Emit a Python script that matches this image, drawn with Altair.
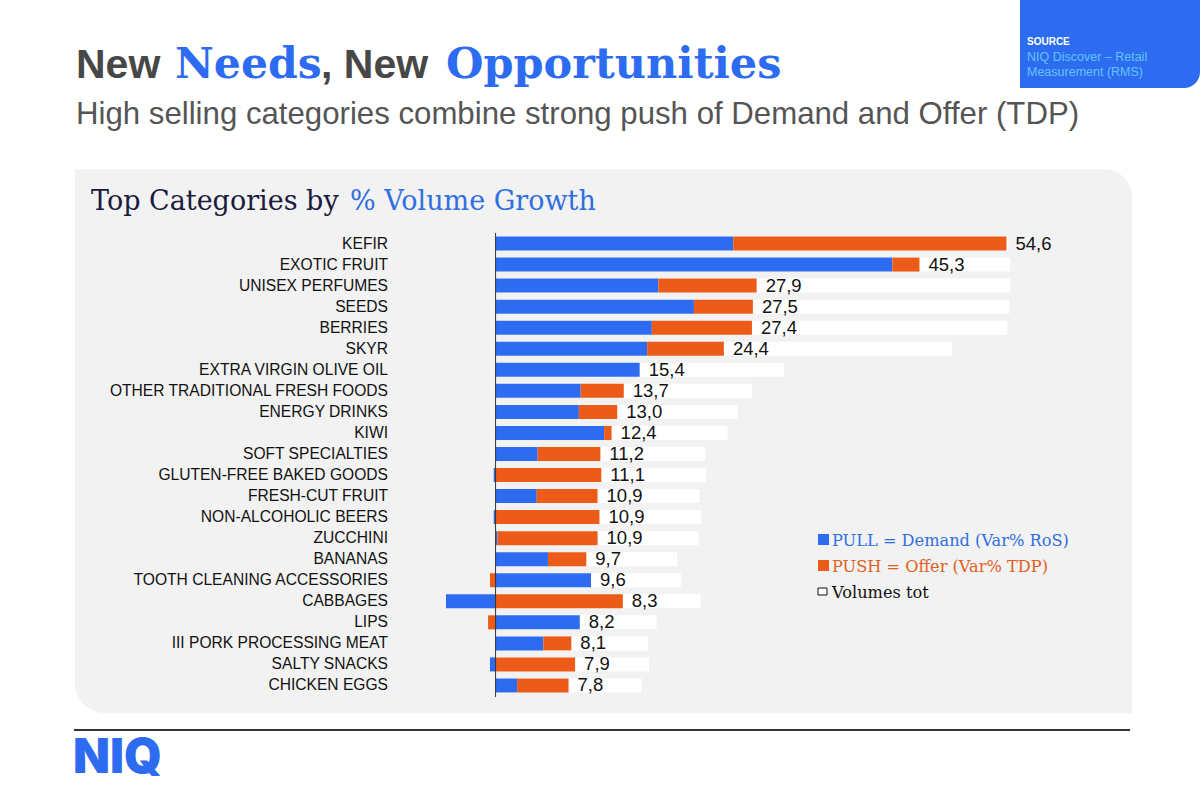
import altair as alt
import pandas as pd

# ---- data -------------------------------------------------------------
categories = [
    "KEFIR", "EXOTIC FRUIT", "UNISEX PERFUMES", "SEEDS", "BERRIES", "SKYR",
    "EXTRA VIRGIN OLIVE OIL", "OTHER TRADITIONAL FRESH FOODS", "ENERGY DRINKS",
    "KIWI", "SOFT SPECIALTIES", "GLUTEN-FREE BAKED GOODS", "FRESH-CUT FRUIT",
    "NON-ALCOHOLIC BEERS", "ZUCCHINI", "BANANAS", "TOOTH CLEANING ACCESSORIES",
    "CABBAGES", "LIPS", "III PORK PROCESSING MEAT", "SALTY SNACKS", "CHICKEN EGGS",
]
# % volume growth (= pull + push)
volume_growth = [54.6, 45.3, 27.9, 27.5, 27.4, 24.4, 15.4, 13.7, 13.0, 12.4, 11.2,
                 11.1, 10.9, 10.9, 10.9, 9.7, 9.6, 8.3, 8.2, 8.1, 7.9, 7.8]
# PULL = Demand (Var% RoS)
pull_demand = [25.4, 42.4, 17.4, 21.2, 16.7, 16.2, 15.4, 9.1, 8.9, 11.6, 4.5,
               -0.2, 4.4, -0.2, 0.2, 5.6, 10.2, -5.3, 9.0, 5.1, -0.6, 2.3]
# Volumes tot (background bars)
volumes_tot = [54.8, 55.0, 55.0, 54.9, 54.7, 48.8, 30.8, 27.4, 25.9, 24.8, 22.4,
               22.5, 21.8, 22.0, 21.7, 19.4, 19.8, 21.9, 17.2, 16.3, 16.4, 15.6]
# PUSH = Offer (Var% TDP): the remainder of the growth
push_offer = [round(t - p, 1) for t, p in zip(volume_growth, pull_demand)]

legend_labels = ["PULL = Demand (Var% RoS)", "PUSH = Offer (Var% TDP)", "Volumes tot"]

BLUE = "#2d6cf0"
ORANGE = "#ec5b17"

# ---- layout of the page (plot area origin is at page pixel 402, 233) ----
LEFT, TOP, W, H = 402, 233, 655, 463
X_DOMAIN = [-10, 60]

base = pd.DataFrame({
    "cat": categories,
    "growth": volume_growth,
    "pull": pull_demand,
    "push": push_offer,
    "vol": volumes_tot,
})
base["pos_end"] = base["pull"].clip(lower=0) + base["push"].clip(lower=0)
base["label"] = base["growth"].map(lambda v: f"{v:.1f}".replace(".", ","))

long = pd.concat([
    pd.DataFrame({"cat": categories, "value": pull_demand, "part": "PULL", "k": 0}),
    pd.DataFrame({"cat": categories, "value": push_offer, "part": "PUSH", "k": 1}),
])

xscale = alt.Scale(domain=X_DOMAIN, nice=False, zero=False)
yscale = alt.Scale(paddingInner=0.335, paddingOuter=0.1675)
Y = alt.Y("cat:N", sort=categories, scale=yscale, axis=None)


def px(x, y):
    return dict(x=alt.value(x - LEFT), y=alt.value(y - TOP))


def text(t, x, y, size, color, font="Liberation Sans", weight="normal",
         align="left", baseline="alphabetic"):
    return alt.Chart(pd.DataFrame({"t": [t]})).mark_text(
        font=font, fontSize=size, fontWeight=weight, color=color,
        align=align, baseline=baseline,
    ).encode(text="t:N", **px(x, y))


def box(x0, y0, x1, y1, color, **kw):
    return alt.Chart(pd.DataFrame({"a": [0]})).mark_rect(color=color, **kw).encode(
        x=alt.value(x0 - LEFT), x2=alt.value(x1 - LEFT),
        y=alt.value(y0 - TOP), y2=alt.value(y1 - TOP),
    )


# grey panel behind the chart
panel = box(75, 169, 1132, 713, "#f2f2f2",
            cornerRadiusTopRight=28, cornerRadiusBottomLeft=30)

# source tag in the top-right corner
source_box = box(1020, 0, 1200, 88, BLUE, cornerRadiusBottomRight=16)
source_texts = [
    text("SOURCE", 1027, 45, 10, "#ffffff", weight="bold"),
    text("NIQ Discover \u2013 Retail", 1027, 61, 12.5, "#62c4ff"),
    text("Measurement (RMS)", 1027, 76, 12.5, "#62c4ff"),
]

# headline pieces
title_texts = [
    text("New", 76, 78, 41, "#474747", weight="bold"),
    text("Needs", 175, 78, 42.5, BLUE, font="DejaVu Serif", weight="bold"),
    text(", New", 321, 78, 41, "#474747", weight="bold"),
    text("Opportunities", 446, 78, 43, BLUE, font="DejaVu Serif", weight="bold"),
    text("High selling categories combine strong push of Demand and Offer (TDP)",
         76, 124, 31.2, "#555555"),
    text("Top Categories by", 91, 210, 27, "#1b1b3d", font="DejaVu Serif"),
    text("% Volume Growth", 350, 210, 27, "#2f6fe0", font="DejaVu Serif"),
]

# footer
footer_rule = alt.Chart(pd.DataFrame({"a": [0]})).mark_rule(
    color="#333333", strokeWidth=2
).encode(x=alt.value(74 - LEFT), x2=alt.value(1130 - LEFT), y=alt.value(730 - TOP))
logo = text("NIQ", 73, 773, 48, BLUE, font="Inter", weight=900)

# background "Volumes tot" bars
vol_bars = alt.Chart(base).mark_bar(color="#ffffff").encode(
    x=alt.X("vol:Q", scale=xscale, axis=None), y=Y,
)

# stacked pull / push bars
stack_bars = alt.Chart(long).mark_bar().encode(
    x=alt.X("value:Q", stack="zero", scale=xscale, axis=None),
    y=Y,
    color=alt.Color("part:N", scale=alt.Scale(domain=["PULL", "PUSH"],
                                              range=[BLUE, ORANGE]), legend=None),
    order=alt.Order("k:Q"),
)

# category names to the left of the zero line
cat_labels = alt.Chart(base).mark_text(
    align="right", baseline="middle", font="Liberation Sans", fontSize=15.6,
    color="#111111",
).encode(x=alt.value(388 - LEFT), y=Y, text="cat:N")

value_labels = alt.Chart(base).mark_text(
    align="left", baseline="middle", dx=9, font="Liberation Sans",
    fontSize=18.5, color="#111111",
).encode(
    x=alt.X("pos_end:Q", scale=xscale, axis=None), y=Y, text="label:N",
)

zero_rule = alt.Chart(pd.DataFrame({"a": [0]})).mark_rule(
    color="#333333", strokeWidth=1
).encode(
    x=alt.X(datum=0, type="quantitative", scale=xscale, axis=None),
    y=alt.value(0), y2=alt.value(H + 1),
)

# legend
legend_sq = [
    box(818, 534, 829, 545, BLUE),
    box(818, 560, 829, 571, ORANGE),
    box(818, 588, 827, 595, "#ffffff", stroke="#111111", strokeWidth=1),
]
legend_texts = [
    text(legend_labels[0], 832, 546, 16.2, "#2f6fe0", font="DejaVu Serif"),
    text(legend_labels[1], 832, 572, 16.2, "#e0601c", font="DejaVu Serif"),
    text(legend_labels[2], 832, 598, 16.2, "#111111", font="DejaVu Serif"),
]

chart = alt.layer(
    panel, source_box, *source_texts, *title_texts, footer_rule, logo,
    vol_bars, stack_bars, cat_labels, value_labels, zero_rule,
    *legend_sq, *legend_texts,
).properties(
    width=W, height=H,
    padding={"left": LEFT, "top": TOP, "right": 1200 - LEFT - W,
             "bottom": 801 - TOP - H},
    autosize=alt.AutoSizeParams(type="none"),
    background="#ffffff",
).configure_view(stroke=None)

chart.save("out.html", embed_options={"renderer": "svg", "actions": False})
